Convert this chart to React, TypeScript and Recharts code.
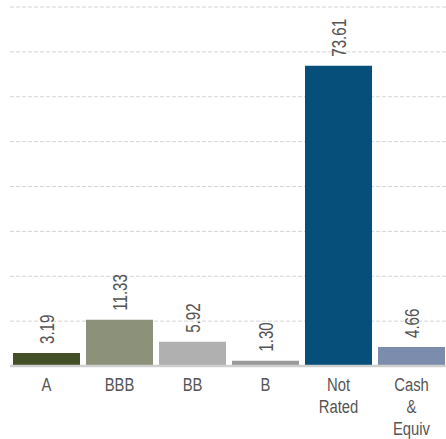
import { Bar, BarChart, CartesianGrid, Cell, LabelList, ReferenceLine, XAxis, YAxis } from 'recharts';

const categories = ['A', 'BBB', 'BB', 'B', 'Not\nRated', 'Cash\n&\nEquiv'];
const weights = [3.19, 11.33, 5.92, 1.3, 73.61, 4.66];
const colors = ['#434f27', '#8c917a', '#b0b0b0', '#9a9a9a', '#064f7b', '#7c8cac'];
const yTicks = [0, 11, 22, 33, 44, 55, 66, 77, 88];

// no condensed face installed, so squeeze Liberation Sans horizontally
const FONT = '"Liberation Sans", Arial, sans-serif';
const TEXT = '#555';

const data = categories.map((name, i) => ({ name, value: weights[i] }));

function CategoryTick({ x, y, payload }: any) {
  const lines = String(payload.value).split('\n');
  return (
    <text
      transform={`translate(${x} ${y}) scale(0.78 1)`}
      textAnchor="middle"
      fill={TEXT}
      fontSize={19}
      fontFamily={FONT}
    >
      {lines.map((l, i) => (
        <tspan key={i} x={0} dy={i === 0 ? 17 : 22}>
          {l}
        </tspan>
      ))}
    </text>
  );
}

function ValueLabel({ x, y, width, value }: any) {
  const cx = x + width / 2;
  const top = y - 9;
  return (
    <text
      transform={`translate(${cx} ${top}) rotate(-90) scale(0.72 1)`}
      dy="0.38em"
      textAnchor="start"
      fill={TEXT}
      fontSize={21}
      fontFamily={FONT}
    >
      {Number(value).toFixed(2)}
    </text>
  );
}

export default function App() {
  return (
    <div style={{ position: 'absolute', left: 0, top: 0, width: 446, height: 439, background: '#fff' }}>
      <BarChart
        width={446}
        height={439}
        data={data}
        margin={{ top: 7, right: -2, bottom: 0, left: 10 }}
        barCategoryGap={3}
      >
        <CartesianGrid vertical={false} stroke="#d4d4d4" strokeDasharray="4 2" />
        <YAxis hide domain={[0, 88]} ticks={yTicks} />
        <XAxis
          dataKey="name"
          axisLine={false}
          tickLine={false}
          interval={0}
          height={73}
          tick={<CategoryTick />}
        />
        <ReferenceLine y={0} stroke="#cfcfcf" strokeWidth={2.5} />
        <Bar dataKey="value" isAnimationActive={false}>
          {data.map((d, i) => (
            <Cell key={d.name} fill={colors[i]} />
          ))}
          <LabelList dataKey="value" content={<ValueLabel />} />
        </Bar>
      </BarChart>
    </div>
  );
}
